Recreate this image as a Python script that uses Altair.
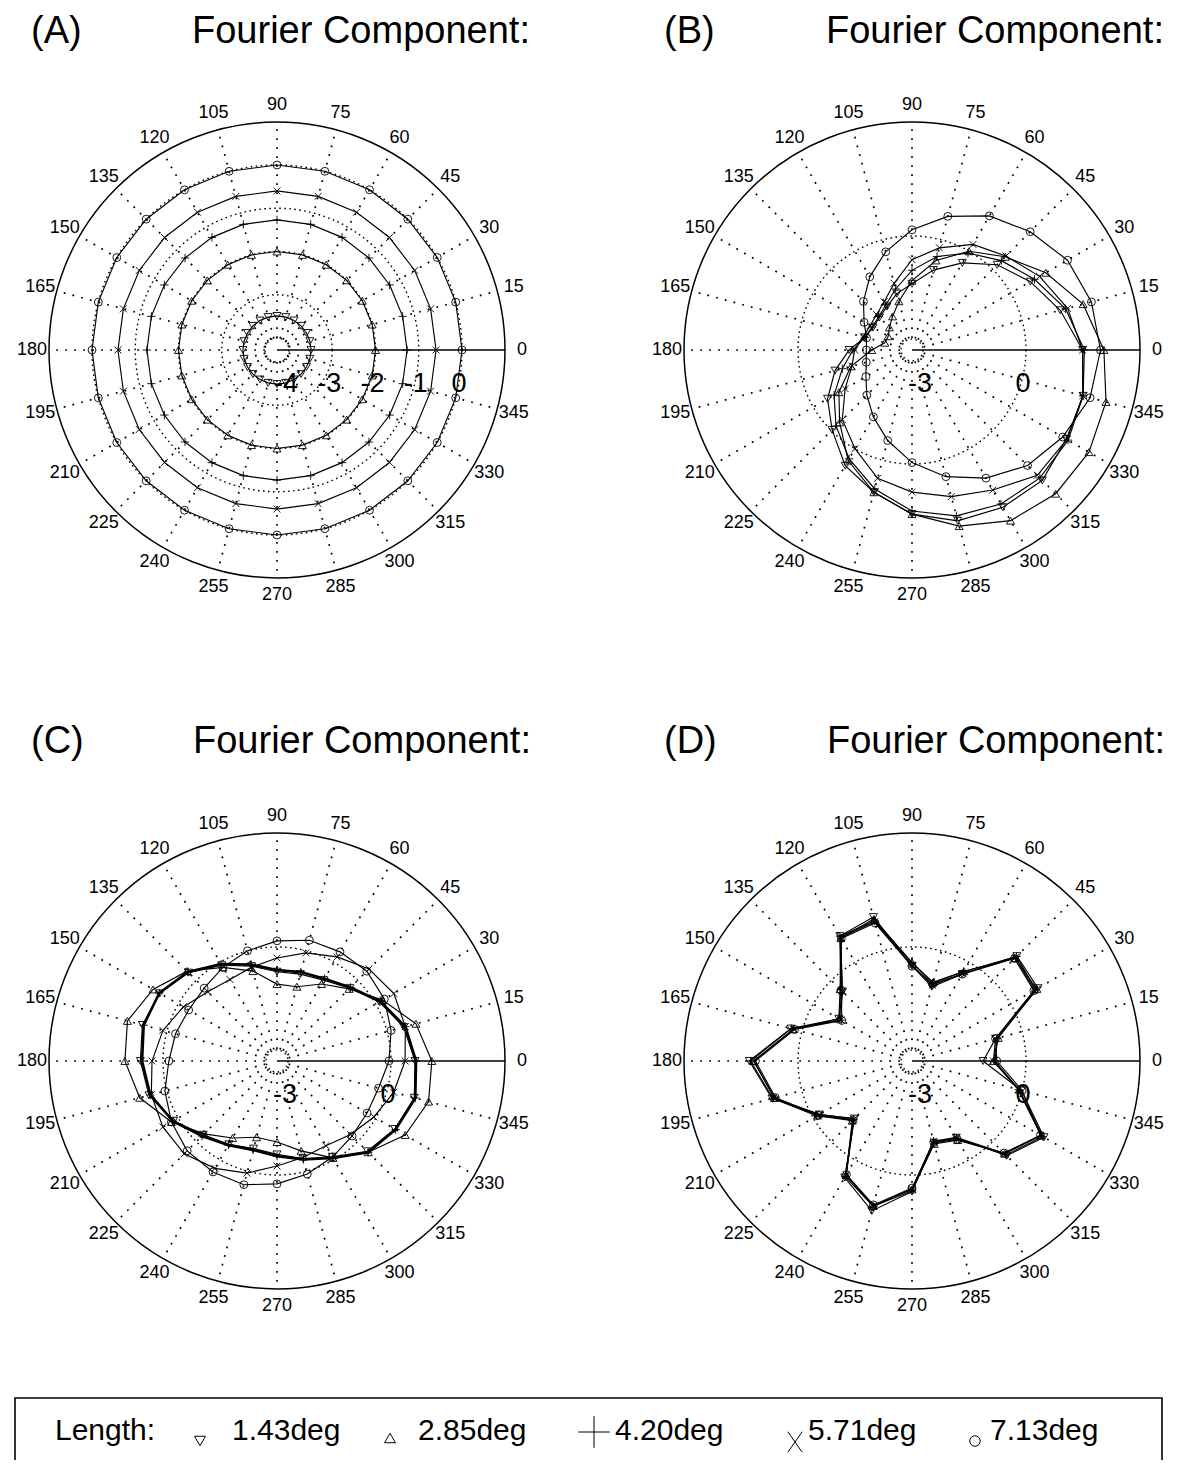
import altair as alt
import pandas as pd

FONT = "Liberation Sans"

# ------------------------------------------------------------------ data
ANGLES = [0, 15, 30, 45, 60, 75, 90, 105, 120, 135, 150, 165,
          180, 195, 210, 225, 240, 255, 270, 285, 300, 315, 330, 345]
ANGLE_LABELS = [str(a) for a in ANGLES]
LENGTHS = ["1.43deg", "2.85deg", "4.20deg", "5.71deg", "7.13deg"]
PANELS = ["A", "B", "C", "D"]

# Panel A (radial values, axis units)
A_143 = [-3.49, -3.49, -3.49, -3.49, -3.49, -3.49, -3.49, -3.49, -3.49, -3.49, -3.49, -3.49,
         -3.49, -3.49, -3.49, -3.49, -3.49, -3.49, -3.49, -3.49, -3.49, -3.49, -3.49, -3.49]
A_285 = [-2.00, -2.00, -2.00, -2.00, -2.00, -2.00, -2.00, -2.00, -2.00, -2.00, -2.00, -2.00,
         -2.00, -2.00, -2.00, -2.00, -2.00, -2.00, -2.00, -2.00, -2.00, -2.00, -2.00, -2.00]
A_420 = [-1.27, -1.27, -1.27, -1.27, -1.27, -1.27, -1.27, -1.27, -1.27, -1.27, -1.27, -1.27,
         -1.27, -1.27, -1.27, -1.27, -1.27, -1.27, -1.27, -1.27, -1.27, -1.27, -1.27, -1.27]
A_571 = [-0.60, -0.60, -0.60, -0.60, -0.60, -0.60, -0.60, -0.60, -0.60, -0.60, -0.60, -0.60,
         -0.60, -0.60, -0.60, -0.60, -0.60, -0.60, -0.60, -0.60, -0.60, -0.60, -0.60, -0.60]
A_713 = [0.00, 0.00, 0.00, 0.00, 0.00, 0.00, 0.00, 0.00, 0.00, 0.00, 0.00, 0.00,
         0.00, 0.00, 0.00, 0.00, 0.00, 0.00, 0.00, 0.00, 0.00, 0.00, 0.00, 0.00]

# Panel B
B_143 = [1.65, 1.15, 0.66, 0.19, -0.39, -0.91, -1.39, -1.62, -1.86, -1.98, -2.01, -1.90,
         -1.49, -1.00, -0.48, -0.03, 0.57, 0.97, 1.46, 1.83, 1.97, 2.05, 1.87, 1.84]
B_285 = [2.27, 1.84, 1.18, 0.52, 0.00, -0.62, -1.30, -1.85, -2.19, -2.39, -2.52, -2.50,
         -2.15, -1.48, -0.86, -0.34, 0.40, 0.97, 1.46, 1.99, 2.42, 2.60, 2.63, 2.53]
B_420 = [1.70, 1.31, 0.80, 0.36, -0.06, -0.50, -1.00, -1.48, -1.80, -1.95, -1.98, -1.90,
         -1.60, -1.22, -0.70, -0.19, 0.34, 0.87, 1.37, 1.68, 1.86, 1.95, 1.93, 1.84]
B_571 = [1.65, 1.37, 0.97, 0.55, 0.23, -0.24, -0.69, -1.31, -1.70, -1.86, -1.91, -1.85,
         -1.65, -1.51, -1.07, -0.45, 0.00, 0.55, 0.82, 1.10, 1.39, 1.84, 1.89, 1.83]
B_713 = [2.17, 2.09, 1.91, 1.55, 1.19, 0.71, 0.18, -0.36, -0.86, -1.32, -1.71, -1.95,
         -1.99, -1.94, -1.77, -1.46, -1.07, -0.59, -0.04, 0.50, 0.99, 1.44, 1.75, 2.05]

# Panel C
C_143 = [0.70, 0.50, 0.12, -0.32, -0.60, -0.70, -0.72, -0.46, -0.10, 0.32, 0.62, 0.74,
         0.66, 0.54, 0.16, -0.28, -0.52, -0.68, -0.60, -0.38, -0.10, 0.40, 0.64, 0.82]
C_285 = [1.19, 0.87, 0.23, -0.35, -0.73, -1.08, -1.08, -0.61, -0.17, 0.38, 0.85, 1.19,
         1.11, 0.82, 0.23, -0.32, -0.73, -1.02, -0.96, -0.61, -0.06, 0.44, 0.99, 1.25]
C_420 = [0.73, 0.55, 0.15, -0.29, -0.55, -0.64, -0.67, -0.41, -0.06, 0.35, 0.64, 0.70,
         0.61, 0.50, 0.18, -0.23, -0.49, -0.64, -0.55, -0.35, -0.06, 0.44, 0.67, 0.85]
C_571 = [0.41, 0.55, 0.61, 0.47, 0.18, -0.06, -0.32, -0.49, -0.58, -0.47, -0.17, 0.12,
         0.32, 0.47, 0.52, 0.50, 0.29, 0.06, -0.26, -0.41, -0.47, -0.29, -0.06, 0.20]
C_713 = [-0.06, 0.12, 0.29, 0.38, 0.35, 0.32, 0.18, 0.00, -0.17, -0.32, -0.35, -0.26,
         -0.17, 0.06, 0.23, 0.38, 0.41, 0.41, 0.26, 0.09, -0.09, -0.23, -0.29, -0.26]

# Panel D
D_143 = [-1.25, -0.80, 0.92, 1.00, -0.40, -1.08, -0.55, 1.02, 0.88, -0.46, -0.86, 0.33,
         1.42, 0.90, -0.20, -0.95, 0.60, 1.20, 0.48, -0.84, -0.74, 0.58, 1.12, -0.02]
D_285 = [-0.95, -0.72, 0.88, 0.92, -0.30, -0.95, -0.45, 0.96, 0.82, -0.36, -0.86, 0.26,
         1.30, 0.82, -0.14, -0.86, 0.52, 1.05, 0.42, -0.82, -0.66, 0.50, 1.02, -0.08]
D_420 = [-0.90, -0.74, 0.83, 0.99, -0.32, -0.97, -0.46, 0.90, 0.88, -0.38, -0.94, 0.32,
         1.38, 0.88, -0.12, -0.92, 0.57, 1.06, 0.46, -0.90, -0.72, 0.55, 1.08, -0.10]
D_571 = [-0.95, -0.80, 0.80, 0.94, -0.38, -1.03, -0.53, 0.88, 0.83, -0.45, -0.93, 0.25,
         1.28, 0.84, -0.21, -0.93, 0.52, 1.05, 0.40, -0.90, -0.75, 0.48, 1.02, -0.12]
D_713 = [-0.85, -0.80, 0.78, 0.90, -0.40, -1.00, -0.56, 0.84, 0.80, -0.40, -0.96, 0.22,
         1.24, 0.80, -0.16, -0.88, 0.50, 1.02, 0.38, -0.86, -0.68, 0.47, 1.00, 0.00]

SERIES = {
    "A": [A_143, A_285, A_420, A_571, A_713],
    "B": [B_143, B_285, B_420, B_571, B_713],
    "C": [C_143, C_285, C_420, C_571, C_713],
    "D": [D_143, D_285, D_420, D_571, D_713],
}
TICKS = {"A": [-4, -3, -2, -1, 0], "B": [-3, 0], "C": [-3, 0], "D": [-3, 0]}
TITLE_TAGS = {"A": "(A)", "B": "(B)", "C": "(C)", "D": "(D)"}
TITLE_TEXT = "Fourier Component:"
LEGEND_TITLE = "Length:"

# ------------------------------------------------------------------ layout (page pixels)
W, H = 1164, 1452
R = 228.0            # outer ring radius
LABEL_R = 245.0      # angle labels
INNER_R = 12.0       # spokes start
CENTER = {"A": (277, 350), "B": (912, 350), "C": (277, 1061), "D": (912, 1061)}
RLIM = {"A": (-4.2775, 0.9942), "B": (-3.3204, 3.3210),
        "C": (-3.3204, 3.3210), "D": (-3.3204, 3.3210)}
TAG_X = {"A": 31, "B": 664, "C": 31, "D": 664}
TITLE_X = {"A": 192, "B": 826, "C": 193, "D": 827}
TITLE_Y = {"A": 43, "B": 43, "C": 753, "D": 753}
TICK_LABEL_DY = 34
TICK_LABEL_DX = -3
BOX = (15, 1398, 1162, 1480)
LEG_TITLE_X, LEG_Y = 55, 1431
LEG_SYM_X = [200, 390, 594, 795, 975]
LEG_SYM_Y = [1441, 1438, 1432, 1442, 1441]
LEG_TEXT_X = [232, 418, 615, 808, 990]

PLUS = "M-1,0H1M0,-1V1"
CROSS = "M-1,-1L1,1M-1,1L1,-1"
MARK_SHAPES = ["triangle-down", "triangle-up", PLUS, CROSS, "circle"]
MARK_SIZES = [64, 64, 70, 48, 62]
LEG_SHAPES = ["triangle-down", "triangle-up", "M-1,0H1M0,-1V1",
              "M-0.7,-1L0.7,1M-0.7,1L0.7,-1", "circle"]
LEG_SIZES = [120, 120, 1000, 420, 110]

XS = alt.Scale(domain=[8, 8 + W], nice=False, zero=False)
YS = alt.Scale(domain=[8, 8 + H], nice=False, zero=False, reverse=True)


def X(f):
    return alt.X(f, type="quantitative", scale=XS, axis=None)


def Y(f):
    return alt.Y(f, type="quantitative", scale=YS, axis=None)


# ------------------------------------------------------------------ tables
panel_rows = []
for p in PANELS:
    cx, cy = CENTER[p]
    panel_rows.append(dict(panel=p, cx=cx, cy=cy, vlo=RLIM[p][0], vhi=RLIM[p][1]))
panel_df = pd.DataFrame(panel_rows)
PINFO = {r["panel"]: r for r in panel_rows}

series_rows = []
for p in PANELS:
    info = PINFO[p]
    for name, vals in zip(LENGTHS, SERIES[p]):
        pts = list(zip(ANGLES, vals)) + [(360, vals[0])]
        for k, (a, v) in enumerate(pts):
            series_rows.append(dict(panel=p, length=name, angle=a, value=v, order=k,
                                    cx=info["cx"], cy=info["cy"],
                                    vlo=info["vlo"], vhi=info["vhi"]))
series_df = pd.DataFrame(series_rows)

spoke_rows = []
for p in PANELS:
    info = PINFO[p]
    for a, lab in zip(ANGLES, ANGLE_LABELS):
        spoke_rows.append(dict(panel=p, angle=a, label=lab, cx=info["cx"], cy=info["cy"]))
spoke_df = pd.DataFrame(spoke_rows)

tick_rows = []
for p in PANELS:
    info = PINFO[p]
    for t in TICKS[p]:
        tick_rows.append(dict(panel=p, value=t, label=str(t), cx=info["cx"], cy=info["cy"],
                              vlo=info["vlo"], vhi=info["vhi"]))
tick_df = pd.DataFrame(tick_rows)

title_df = pd.DataFrame([dict(panel=p, tag=TITLE_TAGS[p], title=TITLE_TEXT,
                              tx=TAG_X[p], ttx=TITLE_X[p], ty=TITLE_Y[p]) for p in PANELS])

legend_df = pd.DataFrame(dict(item=LENGTHS, sx=LEG_SYM_X, sy=LEG_SYM_Y, lx=LEG_TEXT_X))

# ------------------------------------------------------------------ layers
RP = f"{R}*(datum.value-datum.vlo)/(datum.vhi-datum.vlo)"
COS = "cos(datum.angle*PI/180)"
SIN = "sin(datum.angle*PI/180)"

outer = alt.Chart(panel_df).mark_point(shape="circle", filled=False, color="black",
                                       strokeWidth=1.5, opacity=1,
                                       size=(2 * R) ** 2).encode(x=X("cx"), y=Y("cy"))

grid_rings = alt.Chart(tick_df).transform_calculate(
    rp=RP).transform_calculate(sz="pow(2*datum.rp, 2)").mark_point(
    shape="circle", filled=False, color="black", strokeWidth=1.4,
    strokeDash=[1.6, 3.4], opacity=1).encode(
    x=X("cx"), y=Y("cy"), size=alt.Size("sz:Q", scale=None))

spokes = alt.Chart(spoke_df).transform_filter("datum.angle > 0").transform_calculate(
    x1=f"datum.cx + {INNER_R}*{COS}", y1=f"datum.cy - {INNER_R}*{SIN}",
    x2=f"datum.cx + {R}*{COS}", y2=f"datum.cy - {R}*{SIN}").mark_rule(
    color="black", strokeWidth=1.7, strokeDash=[1.8, 7.2]).encode(
    x=X("x1"), y=Y("y1"), x2="x2:Q", y2="y2:Q")

axis0 = alt.Chart(spoke_df).transform_filter("datum.angle == 0").transform_calculate(
    x2=f"datum.cx + {R}").mark_rule(color="black", strokeWidth=1.4).encode(
    x=X("cx"), y=Y("cy"), x2="x2:Q", y2="cy:Q")

angle_labels = alt.Chart(spoke_df).transform_calculate(
    lx=f"datum.cx + {LABEL_R}*{COS}", ly=f"datum.cy - {LABEL_R}*{SIN}").mark_text(
    font=FONT, fontSize=18, color="black", align="center", baseline="middle").encode(
    x=X("lx"), y=Y("ly"), text="label:N")

tick_labels = alt.Chart(tick_df).transform_calculate(rp=RP).transform_calculate(
    lx=f"datum.cx + datum.rp + ({TICK_LABEL_DX})", ly=f"datum.cy + {TICK_LABEL_DY}").mark_text(
    font=FONT, fontSize=27, color="black", align="center", baseline="middle").encode(
    x=X("lx"), y=Y("ly"), text="label:N")

geo = alt.Chart(series_df).transform_calculate(rp=RP).transform_calculate(
    px=f"datum.cx + datum.rp*{COS}", py=f"datum.cy - datum.rp*{SIN}")

lines = geo.mark_line(color="black", interpolate="linear").encode(
    x=X("px"), y=Y("py"), detail=["panel:N", "length:N"], order="order:Q",
    strokeWidth=alt.condition("datum.panel == 'C' && datum.length == '4.20deg'",
                              alt.value(2.6), alt.value(1.15)))

marker_layers = []
for name, shp, sz in zip(LENGTHS, MARK_SHAPES, MARK_SIZES):
    marker_layers.append(
        geo.transform_filter(f"datum.angle < 360 && datum.length == '{name}'").mark_point(
            shape=shp, size=sz, filled=False, color="black", strokeWidth=0.9,
            opacity=1).encode(x=X("px"), y=Y("py")))

tags = alt.Chart(title_df).mark_text(font=FONT, fontSize=38, align="left",
                                     baseline="alphabetic", color="black").encode(
    x=X("tx"), y=Y("ty"), text="tag:N")
titles = alt.Chart(title_df).mark_text(font=FONT, fontSize=38, align="left",
                                       baseline="alphabetic", color="black").encode(
    x=X("ttx"), y=Y("ty"), text="title:N")

box_df = pd.DataFrame([dict(x1=BOX[0], y1=BOX[1], x2=BOX[2], y2=BOX[3])])
box = alt.Chart(box_df).mark_rect(fillOpacity=0, stroke="black", strokeWidth=1.6,
                                  clip=True).encode(
    x=X("x1"), y=Y("y1"), x2="x2:Q", y2="y2:Q")

leg_title_df = pd.DataFrame([dict(t=LEGEND_TITLE, x=LEG_TITLE_X, y=LEG_Y)])
leg_title = alt.Chart(leg_title_df).mark_text(font=FONT, fontSize=30, align="left",
                                              baseline="middle", color="black").encode(
    x=X("x"), y=Y("y"), text="t:N")

leg_syms = []
for name, shp, sz in zip(LENGTHS, LEG_SHAPES, LEG_SIZES):
    leg_syms.append(
        alt.Chart(legend_df).transform_filter(f"datum.item == '{name}'").mark_point(
            shape=shp, size=sz, filled=False, color="black", strokeWidth=1.0,
            opacity=1).encode(x=X("sx"), y=Y("sy")))

leg_text = alt.Chart(legend_df).transform_calculate(ty=str(LEG_Y)).mark_text(
    font=FONT, fontSize=30, align="left", baseline="middle", color="black").encode(
    x=X("lx"), y=Y("ty"), text="item:N")

chart = alt.layer(
    grid_rings, spokes, axis0, outer, angle_labels, tick_labels,
    lines, *marker_layers, tags, titles, box, leg_title, *leg_syms, leg_text
).properties(width=W, height=H, padding=0, autosize="none").configure_view(stroke=None)

chart.save("out.html", embed_options={"renderer": "svg", "actions": False})
